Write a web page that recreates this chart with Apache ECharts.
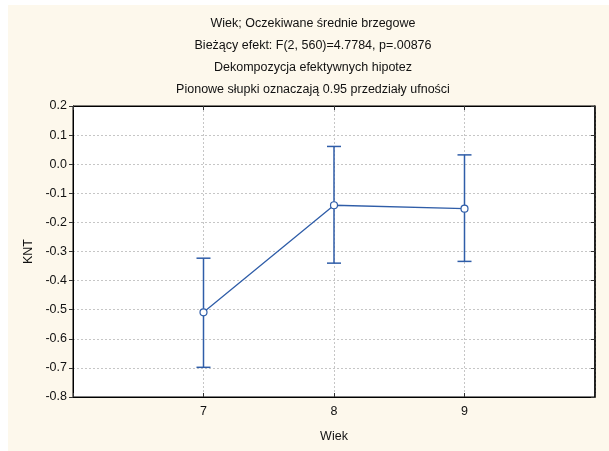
<!DOCTYPE html>
<html><head><meta charset="utf-8">
<script src="https://cdn.jsdelivr.net/npm/echarts@6/dist/echarts.min.js"></script>
<style>html,body{margin:0;padding:0;background:#fff}#c{width:609px;height:451px}</style>
</head><body><div id="c"></div>
<script>
const titleLines = ["Wiek; Oczekiwane średnie brzegowe","Bieżący efekt: F(2, 560)=4.7784, p=.00876","Dekompozycja efektywnych hipotez","Pionowe słupki oznaczają 0.95 przedziały ufności"];
const categories = [7, 8, 9];
const means = [-0.509, -0.141, -0.153];
const lower = [-0.698, -0.340, -0.334];
const upper = [-0.323, 0.061, 0.032];
const yTicks = [0.2,0.1,0.0,-0.1,-0.2,-0.3,-0.4,-0.5,-0.6,-0.7,-0.8];
const xName = "Wiek", yName = "KNT";

const font = "'Liberation Sans', Arial, sans-serif";
const blue = '#2f5da8';
const chart = echarts.init(document.getElementById('c'), null, {renderer:'canvas'});
const lineData = categories.map((c,i)=>[c, means[i]]);
const errData = categories.map((c,i)=>[c, lower[i], upper[i]]);
const showX = v => categories.indexOf(v) >= 0 ? String(v) : '';
chart.setOption({
  animation:false,
  backgroundColor:'#fff',
  graphic:[
    {type:'rect', left:8, top:5, shape:{width:601, height:446}, style:{fill:'#fdf8ec'}, z:-10, silent:true},
    ...titleLines.map((t,i)=>({type:'text', x:313, y:23.5+22*i, style:{text:t, font:'12.5px '+font, fill:'#111', textAlign:'center', textVerticalAlign:'middle'}}))
  ],
  grid:{left:73, right:14, top:106, bottom:54, show:true, backgroundColor:'#fff', borderColor:'#000', borderWidth:1},
  xAxis:[
    {type:'value', min:6, max:10, interval:1, name:xName, nameLocation:'middle', nameGap:33,
     nameTextStyle:{fontFamily:font, fontSize:12.5, color:'#111'},
     axisLine:{show:true, onZero:false, lineStyle:{color:'#000'}}, axisTick:{show:true, inside:true, length:4, lineStyle:{color:'#333'}},
     axisLabel:{formatter:showX, fontFamily:font, fontSize:12.5, color:'#111', margin:8},
     splitLine:{show:true, lineStyle:{color:'#c6c6c6', type:[2,2]}}},
    {type:'value', position:'top', min:6, max:10, interval:1,
     axisLine:{show:true, onZero:false, lineStyle:{color:'#000'}}, axisTick:{show:true, inside:true, length:4, lineStyle:{color:'#333'}},
     axisLabel:{show:false}, splitLine:{show:false}}
  ],
  yAxis:[
    {type:'value', min:-0.8, max:0.2, interval:0.1, name:yName, nameLocation:'middle', nameGap:35, nameRotate:90,
     nameTextStyle:{fontFamily:font, fontSize:12.5, color:'#111'},
     axisLine:{show:true, onZero:false, lineStyle:{color:'#000'}}, axisTick:{show:true, inside:false, length:4, lineStyle:{color:'#333'}},
     axisLabel:{formatter:v=>v.toFixed(1), fontFamily:font, fontSize:12.5, color:'#111', margin:6},
     splitLine:{show:true, lineStyle:{color:'#c6c6c6', type:[2,2]}}},
    {type:'value', position:'right', min:-0.8, max:0.2, interval:0.1,
     axisLine:{show:true, onZero:false, lineStyle:{color:'#000', width:1.5}}, axisTick:{show:true, inside:true, length:4, lineStyle:{color:'#333'}},
     axisLabel:{show:false}, splitLine:{show:false}}
  ],
  series:[
    {type:'custom', data:errData, z:3, renderItem:(params, api)=>{
      const x = api.value(0);
      const lo = api.coord([x, api.value(1)]);
      const hi = api.coord([x, api.value(2)]);
      const hw = 7;
      const st = {stroke:blue, lineWidth:1.5};
      return {type:'group', children:[
        {type:'line', shape:{x1:lo[0], y1:lo[1], x2:hi[0], y2:hi[1]}, style:st},
        {type:'line', shape:{x1:lo[0]-hw, y1:lo[1], x2:lo[0]+hw, y2:lo[1]}, style:st},
        {type:'line', shape:{x1:hi[0]-hw, y1:hi[1], x2:hi[0]+hw, y2:hi[1]}, style:st}
      ]};
    }},
    {type:'line', data:lineData, z:5, symbol:'circle', symbolSize:7,
     lineStyle:{color:blue, width:1.3}, itemStyle:{color:'#fff', borderColor:blue, borderWidth:1.2}}
  ]
});
</script></body></html>
